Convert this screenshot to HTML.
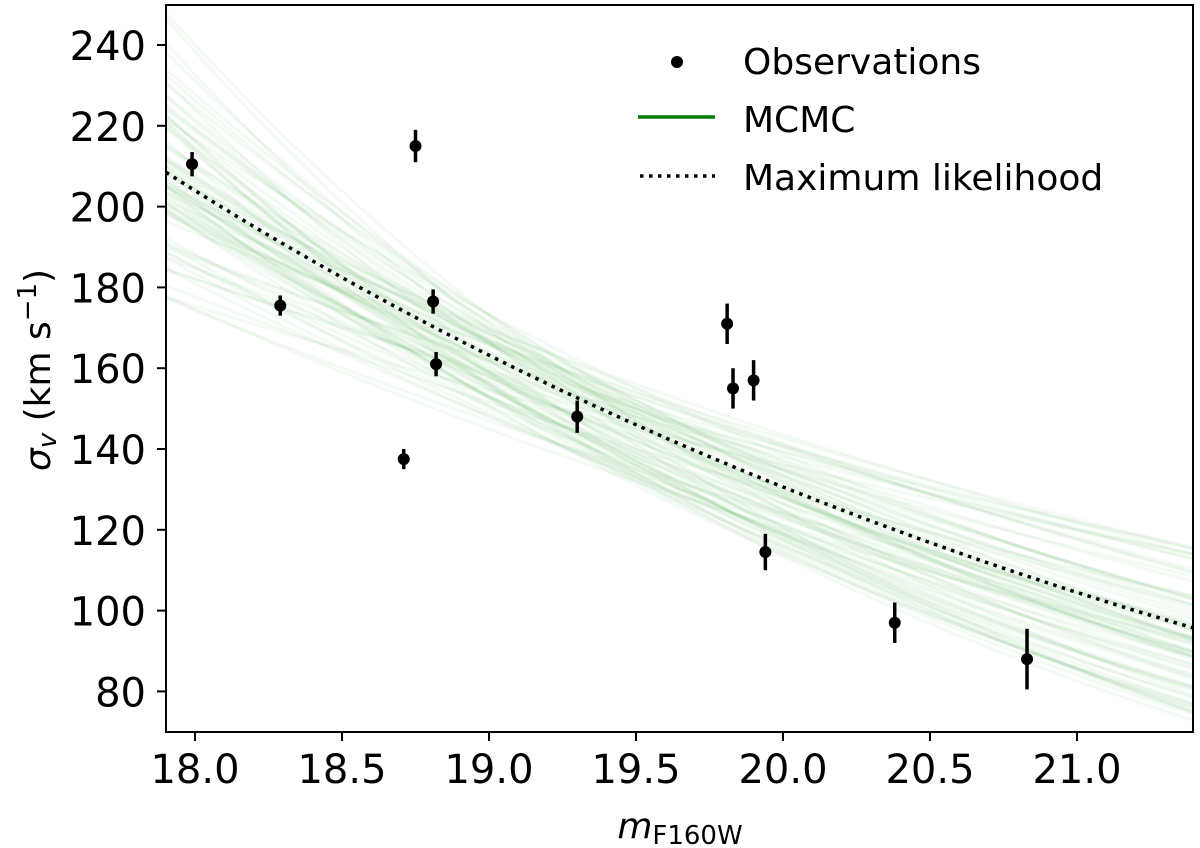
<!DOCTYPE html>
<html><head><meta charset="utf-8"><style>
html,body{margin:0;padding:0;background:#fff;}
svg{display:block;font-family:"DejaVu Sans","Liberation Sans",sans-serif;}
</style></head><body>
<svg id="chart" width="1200" height="848" viewBox="0 0 1200 848">
<defs><clipPath id="clip"><rect x="166" y="5" width="1027" height="727"/></clipPath></defs>
<g id="mcmc" clip-path="url(#clip)"></g>
<g id="ml" clip-path="url(#clip)"></g>
<g id="obs"></g>
<rect x="166" y="5" width="1027" height="727" fill="none" stroke="#000" stroke-width="2"/>
<g id="xticks"></g>
<g id="yticks"></g>
<text x="680" y="838" font-size="36" text-anchor="middle"><tspan font-style="italic">m</tspan><tspan font-size="26" dy="6">F160W</tspan></text>
<text transform="translate(50,370) rotate(-90)" font-size="36" text-anchor="middle"><tspan font-style="italic">σ</tspan><tspan font-style="italic" font-size="26" dy="6">v</tspan><tspan dy="-6"> (km s</tspan><tspan font-size="26" dy="-14">−1</tspan><tspan dy="14">)</tspan></text>
<g>
<circle cx="677" cy="62" r="6" fill="#000"/>
<text x="743" y="74" font-size="36">Observations</text>
<line x1="638" y1="117" x2="715" y2="117" stroke="#008000" stroke-width="3.5"/>
<text x="743" y="132" font-size="36">MCMC</text>
<line x1="640" y1="176" x2="715" y2="176" stroke="#000" stroke-width="3.5" stroke-dasharray="3.5,5.5"/>
<text x="743" y="190" font-size="36">Maximum likelihood</text>
</g>
</svg>
<script>
const obsMag=[17.99,18.29,18.71,18.75,18.81,18.82,19.30,19.81,19.83,19.90,19.94,20.38,20.83];
const obsSigma=[210.5,175.5,137.5,215,176.5,161,148,171,155,157,114.5,97,88];
const obsErr=[3,2.5,2.5,4,3,3,4,5,5,5,4.5,5,7.5];
const mlAmp=[146];
const mlSlope=[0.0968];
const mcmcAmp=[142,149,135,152,133,147,140,155,134,144,150,137,132,151,143,136,146,154,131,140,145,150,134,139,153,132,151,141,148,136,138,152,146,133,149,137,156,135,142,147,
145,138,150,134,148,141,153,137,149,133,146,139,151,147,135,143,154,136,150,144,139,148,134,152,142,137,155,145,132,149,140,147,143,151,136,146,133,150,138,148];
const mcmcSlope=[0.10,0.095,0.11,0.09,0.12,0.085,0.105,0.08,0.115,0.1,0.092,0.108,0.125,0.088,0.098,0.118,0.102,0.078,0.122,0.11,0.094,0.086,0.13,0.1,0.075,0.112,0.096,0.104,0.082,0.12,0.09,0.106,0.114,0.098,0.1,0.128,0.072,0.108,0.092,0.116,
0.055,0.14,0.065,0.135,0.06,0.145,0.07,0.132,0.058,0.138,0.068,0.126,0.062,0.142,0.074,0.148,0.066,0.134,0.077,0.124,0.083,0.117,0.087,0.113,0.091,0.107,0.097,0.103,0.081,0.121,0.069,0.131,0.079,0.119,0.089,0.111,0.093,0.109,0.099,0.101];
const xTicks=[18.0,18.5,19.0,19.5,20.0,20.5,21.0];
const yTicks=[80,100,120,140,160,180,200,220,240];
const X=m=>195+(m-18)*294;
const Y=s=>45-(s-240)*4.04;
const NS="http://www.w3.org/2000/svg";
function mk(tag,attrs,parent){const e=document.createElementNS(NS,tag);for(const k in attrs)e.setAttribute(k,attrs[k]);parent.appendChild(e);return e;}
function curvePath(a,b){let d="";for(let i=0;i<=60;i++){const m=17.85+i*(3.6/60);const s=a*Math.pow(10,-b*(m-19.5));d+=(i?"L":"M")+X(m).toFixed(1)+","+Y(s).toFixed(1);}return d;}
const gM=document.getElementById('mcmc');
for(let i=0;i<mcmcAmp.length;i++){
 const p=mk('path',{d:curvePath(mcmcAmp[i],mcmcSlope[i]),fill:'none',stroke:'#2ca02c','stroke-width':3,'stroke-opacity':0.05},gM);
 
 
}
const gL=document.getElementById('ml');
const ml=mk('path',{d:curvePath(mlAmp[0],mlSlope[0]),fill:'none',stroke:'#000','stroke-width':3.5,'stroke-dasharray':'3.5,5.5'},gL);


const gO=document.getElementById('obs');
for(let i=0;i<obsMag.length;i++){
 const x=X(obsMag[i]);
 const l=mk('line',{x1:x,x2:x,y1:Y(obsSigma[i]-obsErr[i]),y2:Y(obsSigma[i]+obsErr[i]),stroke:'#000','stroke-width':3.5},gO);
 
 
 const c=mk('circle',{cx:x,cy:Y(obsSigma[i]),r:6,fill:'#000'},gO);
 
 
}
const gX=document.getElementById('xticks');
xTicks.forEach(v=>{const x=X(v);
 const t=mk('line',{x1:x,x2:x,y1:732,y2:741,stroke:'#000','stroke-width':2},gX);
 
 
 const tx=mk('text',{x:x,y:783,'font-size':40,'text-anchor':'middle'},gX);tx.textContent=v.toFixed(1);
 
 
});
const gY=document.getElementById('yticks');
yTicks.forEach(v=>{const y=Y(v);
 const t=mk('line',{x1:157,x2:166,y1:y,y2:y,stroke:'#000','stroke-width':2},gY);
 
 
 const tx=mk('text',{x:146,y:y+15,'font-size':40,'text-anchor':'end'},gY);tx.textContent=v;
 
 
});
</script>
</body></html>
